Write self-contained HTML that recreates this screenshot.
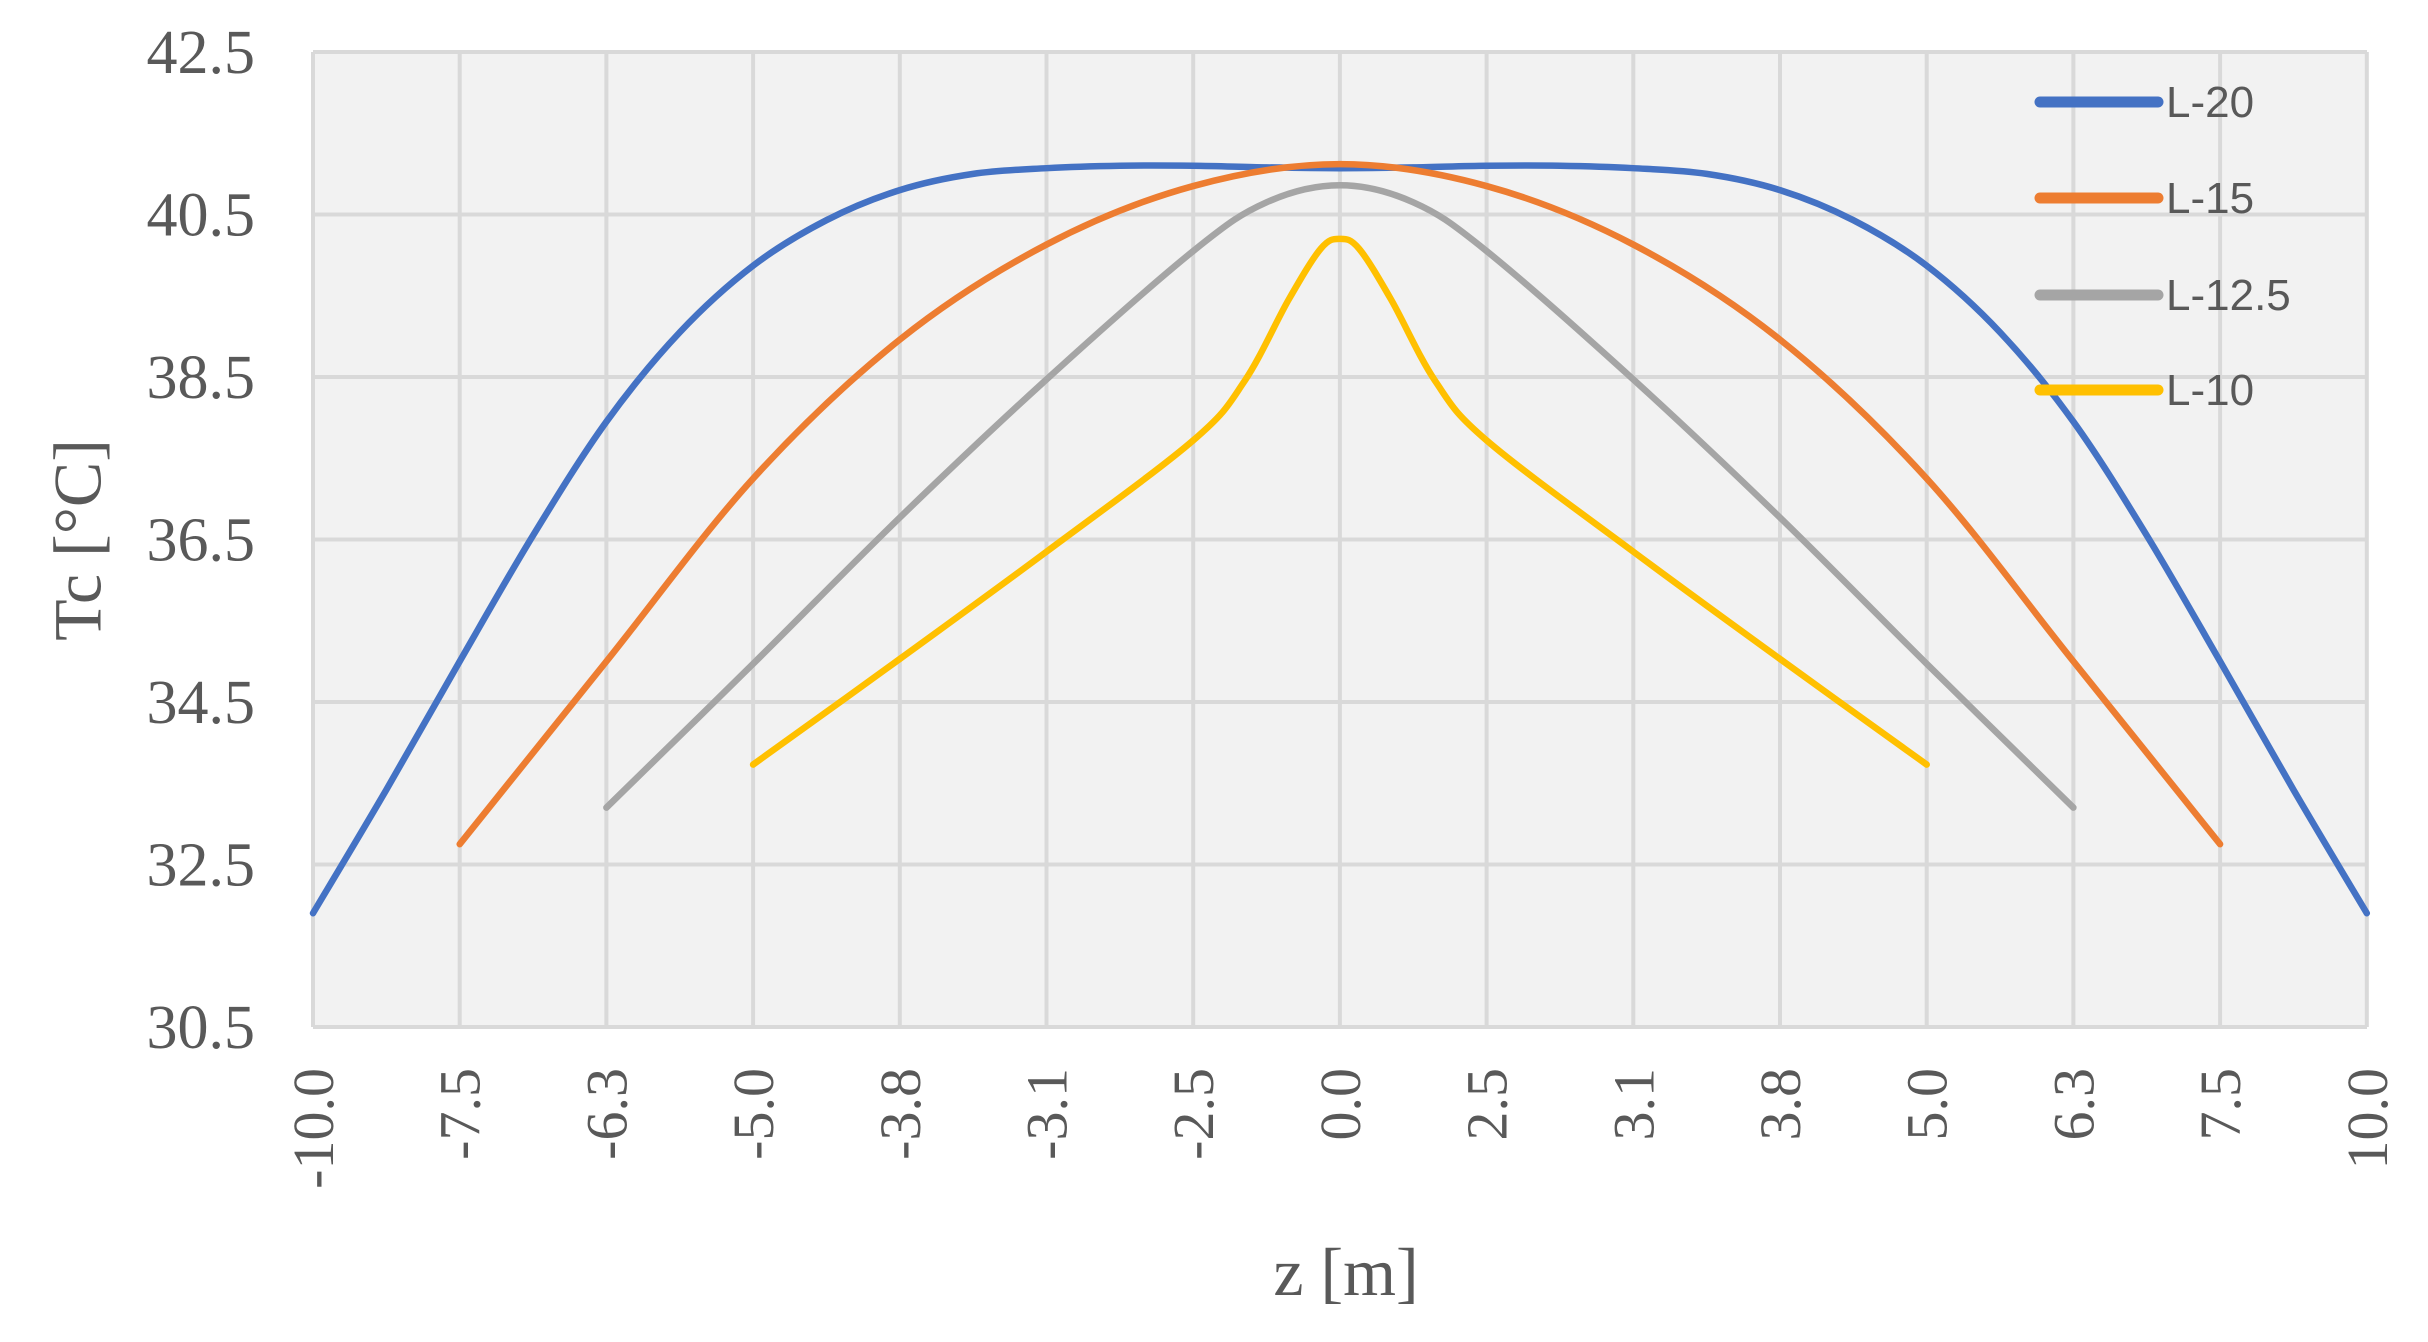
<!DOCTYPE html>
<html><head><meta charset="utf-8"><style>html,body{margin:0;padding:0;background:#fff}</style></head>
<body>
<svg id="s" width="2428" height="1337" xmlns="http://www.w3.org/2000/svg">
<rect x="313" y="52" width="2054" height="975" fill="#F2F2F2"/>
<g id="grid" stroke="#D9D9D9" stroke-width="4" fill="none"></g>
<g id="lbl" font-family="Liberation Serif, serif" fill="#595959"></g>
<g id="curves" fill="none" stroke-width="6.5" stroke-linejoin="round" stroke-linecap="round"></g>
<text x="85" y="540" font-family="Liberation Serif, serif" font-size="68" fill="#595959" text-anchor="middle" transform="rotate(-90 85 540)" dominant-baseline="middle">Tc [°C]</text>
<text x="1346" y="1295" font-family="Liberation Serif, serif" font-size="68" fill="#595959" text-anchor="middle">z [m]</text>
<g font-family="Liberation Sans, sans-serif" font-size="44" fill="#595959" stroke-linecap="round">
<line x1="2040" y1="102" x2="2158" y2="102" stroke="#4472C4" stroke-width="11"/><text x="2166" y="117">L-20</text>
<line x1="2040" y1="198" x2="2158" y2="198" stroke="#ED7D31" stroke-width="11"/><text x="2166" y="213">L-15</text>
<line x1="2040" y1="295" x2="2158" y2="295" stroke="#A5A5A5" stroke-width="11"/><text x="2166" y="310">L-12.5</text>
<line x1="2040" y1="390" x2="2158" y2="390" stroke="#FFC000" stroke-width="11"/><text x="2166" y="405">L-10</text>
</g>
</svg>
<script>
const NS="http://www.w3.org/2000/svg";
const X=u=>313+146.7*u, Y=T=>52+(42.5-T)*81.25;
const grid=document.getElementById('grid'), lbl=document.getElementById('lbl'), cv=document.getElementById('curves');
function el(p,tag,a,txt){const e=document.createElementNS(NS,tag);for(const k in a)e.setAttribute(k,a[k]);if(txt)e.textContent=txt;p.appendChild(e);return e;}
for(let i=0;i<=14;i++){el(grid,'line',{x1:X(i),y1:52,x2:X(i),y2:1027});}
for(let j=0;j<=6;j++){const y=52+162.5*j;el(grid,'line',{x1:313,y1:y,x2:2367,y2:y});
 el(lbl,'text',{x:255,y:y+21,'font-size':62,'text-anchor':'end'},(42.5-2*j).toFixed(1));}
const xl=["-10.0","-7.5","-6.3","-5.0","-3.8","-3.1","-2.5","0.0","2.5","3.1","3.8","5.0","6.3","7.5","10.0"];
xl.forEach((t,i)=>{const x=X(i)+20,y=1068;el(lbl,'text',{x:x,y:y,'font-size':58,'text-anchor':'end',transform:`rotate(-90 ${x} ${y})`},t);});
function sym(h){const r=h.slice();for(let k=h.length-2;k>=0;k--)r.push([14-h[k][0],h[k][1]]);return r;}
function path(pts){const P=pts.map(p=>[X(p[0]),Y(p[1])]);let d=`M${P[0][0]},${P[0][1]}`;
 for(let i=0;i<P.length-1;i++){const p0=P[i-1]||P[i],p1=P[i],p2=P[i+1],p3=P[i+2]||P[i+1];
  d+=` C${p1[0]+(p2[0]-p0[0])/6},${p1[1]+(p2[1]-p0[1])/6} ${p2[0]-(p3[0]-p1[0])/6},${p2[1]-(p3[1]-p1[1])/6} ${p2[0]},${p2[1]}`;}
 return d;}
const S=[
["#4472C4",[[0,31.9],[0.5,33.42],[1,35.0],[1.5,36.55],[2,37.95],[2.5,39.05],[3,39.87],[3.5,40.43],[4,40.8],[4.5,41.0],[5,41.07],[5.5,41.1],[6,41.1],[6.5,41.08],[7,41.07]]],
["#ED7D31",[[1,32.75],[2,35.0],[3,37.25],[4,38.96],[5,40.13],[6,40.85],[7,41.12]]],
["#A5A5A5",[[2,33.2],[3,34.97],[4,36.77],[5,38.47],[6,40.05],[6.5,40.65],[7,40.86]]],
["#FFC000",[[3,33.73],[4,35.03],[5,36.35],[6,37.72],[6.35,38.45],[6.65,39.45],[6.87,40.08],[7,40.2]]]];
S.forEach(s=>el(cv,'path',{d:path(sym(s[1])),stroke:s[0]}));
</script>
</body></html>
